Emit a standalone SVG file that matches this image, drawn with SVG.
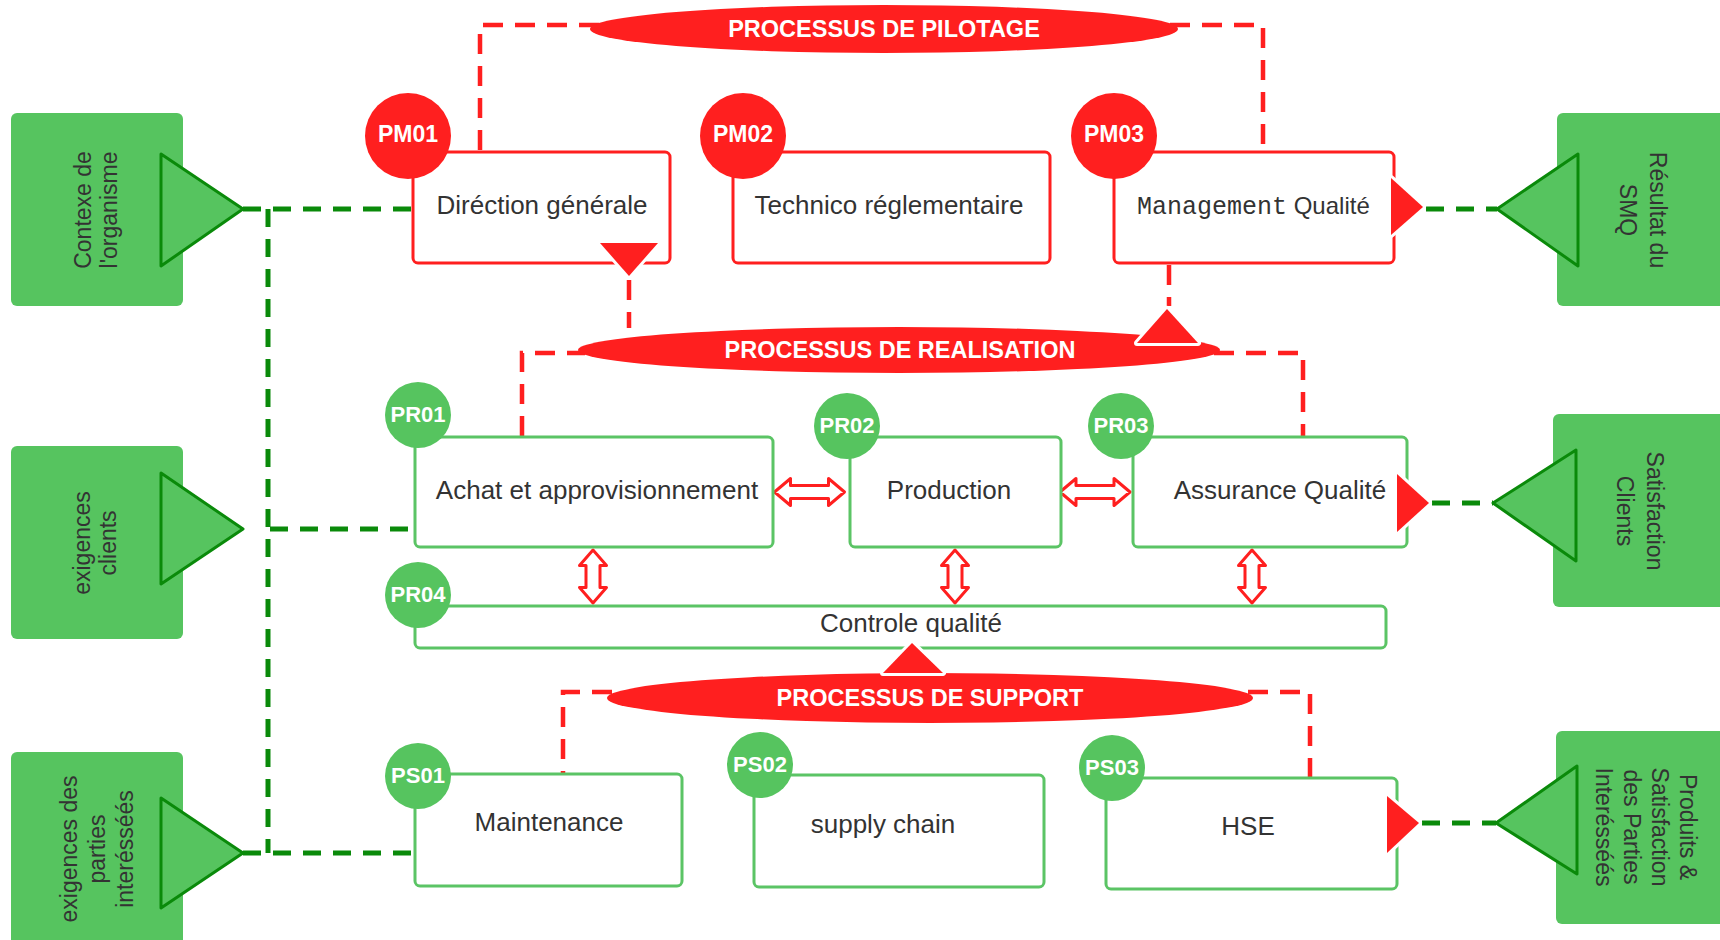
<svg xmlns="http://www.w3.org/2000/svg" width="1720" height="940" viewBox="0 0 1720 940">
<defs>
<style>
.rd{fill:none;stroke:#FF1F1F;stroke-width:4.5;stroke-dasharray:20 12}
.gd{fill:none;stroke:#0A8A0A;stroke-width:5;stroke-dasharray:18 12}
.gbox{fill:#56C45F}
.gtri{fill:#56C45F;stroke:#0A8A0A;stroke-width:3;stroke-linejoin:round}
.rbox{fill:#fff;stroke:#FF1F1F;stroke-width:3}
.nbox{fill:#fff;stroke:#5BC465;stroke-width:3}
.rc{fill:#FF1F1F}
.gc{fill:#56C45F}
.rtri{fill:#FF1F1F;stroke:#fff;stroke-width:6;paint-order:stroke;stroke-linejoin:round}
.dbl{fill:#fff;stroke:#FF1F1F;stroke-width:3;stroke-linejoin:round}
.ell{fill:#FF1F1F}
.t{font-family:"Liberation Sans",Arial,sans-serif;font-size:26px;fill:#333;text-anchor:middle}
.ts{font-family:"Liberation Sans",Arial,sans-serif;font-size:24px;fill:#333;text-anchor:start}
.mono{font-family:"Liberation Mono","Courier New",monospace;font-size:25px}
.side{font-family:"Liberation Sans",Arial,sans-serif;font-size:23px;fill:#333;text-anchor:middle}
.id{font-family:"Liberation Sans",Arial,sans-serif;font-weight:bold;fill:#fff;text-anchor:middle}
.title{font-family:"Liberation Sans",Arial,sans-serif;font-weight:bold;font-size:23.5px;fill:#fff;text-anchor:middle}
</style>
<path id="harrow" d="M-35,0 L-19,-13.5 L-19,-6.5 L19,-6.5 L19,-13.5 L35,0 L19,13.5 L19,6.5 L-19,6.5 L-19,13.5 Z"/>
<path id="varrow" d="M0,-26.5 L13.5,-11 L7,-11 L7,11 L13.5,11 L0,26.5 L-13.5,11 L-7,11 L-7,-11 L-13.5,-11 Z"/>
</defs>
<rect width="1720" height="940" fill="#fff"/>

<g id="connectors">
<path class="rd" d="M480,150 V25 H600"/>
<path class="rd" d="M1170,25 H1263 V150"/>
<path class="rd" d="M629,280 V328"/>
<path class="rd" d="M1169,265 V306"/>
<path class="rd" d="M522,436 V353 H585"/>
<path class="rd" d="M1214,353 H1303 V436"/>
<path class="rd" d="M612,692 H563 V773"/>
<path class="rd" d="M1248,692 H1310 V777"/>
<path class="gd" d="M243,209 H413"/>
<path class="gd" d="M268,209 V853"/>
<path class="gd" d="M270,529 H413"/>
<path class="gd" d="M243,853 H413"/>
<path class="gd" d="M1426,209 H1497"/>
<path class="gd" d="M1432,503 H1493"/>
<path class="gd" d="M1422,823 H1496"/>
<use href="#harrow" class="dbl" x="809.5" y="492"/>
<use href="#harrow" class="dbl" x="1095" y="492"/>
<use href="#varrow" class="dbl" x="593" y="576.5"/>
<use href="#varrow" class="dbl" x="955" y="576.5"/>
<use href="#varrow" class="dbl" x="1252" y="576.5"/>
</g>

<g id="in-contexte">
<rect class="gbox" x="11" y="113" width="172" height="193" rx="6"/>
<path class="gtri" d="M161,154 L243,209 L161,266 Z"/>
<text class="side" transform="translate(97,210) rotate(-90)"><tspan x="0" y="-6">Contexe de</tspan><tspan x="0" y="20">l'organisme</tspan></text>
</g>
<g id="in-clients">
<rect class="gbox" x="11" y="446" width="172" height="193" rx="6"/>
<path class="gtri" d="M161,473 L243,529 L161,584 Z"/>
<text class="side" transform="translate(96,543) rotate(-90)"><tspan x="0" y="-6">exigences</tspan><tspan x="0" y="20">clients</tspan></text>
</g>
<g id="in-parties">
<rect class="gbox" x="11" y="752" width="172" height="193" rx="6"/>
<path class="gtri" d="M161,798 L243,853 L161,908 Z"/>
<text class="side" transform="translate(97,849) rotate(-90)"><tspan x="0" y="-20">exigences des</tspan><tspan x="0" y="8">parties</tspan><tspan x="0" y="36">interésséés</tspan></text>
</g>

<g id="out-resultat">
<rect class="gbox" x="1557" y="113" width="172" height="193" rx="6"/>
<path class="gtri" d="M1578,154 L1497,209 L1578,266 Z"/>
<text class="side" transform="translate(1643,210) rotate(90)"><tspan x="0" y="-7">Résultat du</tspan><tspan x="0" y="23">SMQ</tspan></text>
</g>
<g id="out-satisfaction">
<rect class="gbox" x="1553" y="414" width="172" height="193" rx="6"/>
<path class="gtri" d="M1576,450 L1493,503 L1576,561 Z"/>
<text class="side" transform="translate(1640,511) rotate(90)"><tspan x="0" y="-7">Satisfaction</tspan><tspan x="0" y="23">Clients</tspan></text>
</g>
<g id="out-produits">
<rect class="gbox" x="1556" y="731" width="172" height="193" rx="6"/>
<path class="gtri" d="M1577,766 L1496,823 L1577,874 Z"/>
<text class="side" transform="translate(1646,827) rotate(90)"><tspan x="0" y="-34">Produits &amp;</tspan><tspan x="0" y="-6">Satisfaction</tspan><tspan x="0" y="22">des Parties</tspan><tspan x="0" y="50">Interésséés</tspan></text>
</g>

<g id="pilotage">
<ellipse class="ell" cx="884" cy="29" rx="294" ry="24"/>
<text class="title" x="884" y="37">PROCESSUS DE PILOTAGE</text>
</g>
<g id="realisation">
<ellipse class="ell" cx="899" cy="350" rx="321" ry="23"/>
<text class="title" x="900" y="358">PROCESSUS DE REALISATION</text>
<path class="rtri" d="M1137,343 L1167,309 L1198,343 Z"/>
</g>
<g id="support">
<ellipse class="ell" cx="930" cy="698" rx="323" ry="25"/>
<text class="title" x="930" y="706">PROCESSUS DE SUPPORT</text>
</g>

<g id="PM01">
<rect class="rbox" x="413" y="152" width="257" height="111" rx="5"/>
<path class="rtri" d="M600,243 L658,243 L629,276 Z"/>
<circle class="rc" cx="408" cy="136" r="43"/>
<text class="id" x="408" y="142" font-size="23">PM01</text>
<text class="t" x="542" y="214">Diréction générale</text>
</g>
<g id="PM02">
<rect class="rbox" x="733" y="152" width="317" height="111" rx="5"/>
<circle class="rc" cx="743" cy="136" r="43"/>
<text class="id" x="743" y="142" font-size="23">PM02</text>
<text class="t" x="889" y="214">Technico réglementaire</text>
</g>
<g id="PM03">
<rect class="rbox" x="1114" y="152" width="280" height="111" rx="5"/>
<path class="rtri" d="M1391,178 L1423,207 L1391,235 Z"/>
<circle class="rc" cx="1114" cy="136" r="43"/>
<text class="id" x="1114" y="142" font-size="23">PM03</text>
<text class="ts" x="1137" y="214"><tspan class="mono">Management</tspan> Qualité</text>
</g>

<g id="PR01">
<rect class="nbox" x="415" y="437" width="358" height="110" rx="5"/>
<circle class="gc" cx="418" cy="415" r="33"/>
<text class="id" x="418" y="422" font-size="22">PR01</text>
<text class="t" x="597" y="499">Achat et approvisionnement</text>
</g>
<g id="PR02">
<rect class="nbox" x="850" y="437" width="211" height="110" rx="5"/>
<circle class="gc" cx="847" cy="426" r="33"/>
<text class="id" x="847" y="433" font-size="22">PR02</text>
<text class="t" x="949" y="499">Production</text>
</g>
<g id="PR03">
<rect class="nbox" x="1133" y="437" width="274" height="110" rx="5"/>
<path class="rtri" d="M1397,474 L1429,503 L1397,532 Z"/>
<circle class="gc" cx="1121" cy="426" r="33"/>
<text class="id" x="1121" y="433" font-size="22">PR03</text>
<text class="t" x="1280" y="499">Assurance Qualité</text>
</g>
<g id="PR04">
<rect class="nbox" x="415" y="606" width="971" height="42" rx="5"/>
<circle class="gc" cx="418" cy="595" r="33"/>
<text class="id" x="418" y="602" font-size="22">PR04</text>
<text class="t" x="911" y="632">Controle qualité</text>
<path class="rtri" d="M883,673 L912,643 L943,673 Z"/>
</g>

<g id="PS01">
<rect class="nbox" x="415" y="774" width="267" height="112" rx="5"/>
<circle class="gc" cx="418" cy="776" r="33"/>
<text class="id" x="418" y="783" font-size="22">PS01</text>
<text class="t" x="549" y="831">Maintenance</text>
</g>
<g id="PS02">
<rect class="nbox" x="754" y="775" width="290" height="112" rx="5"/>
<circle class="gc" cx="760" cy="765" r="33"/>
<text class="id" x="760" y="772" font-size="22">PS02</text>
<text class="t" x="883" y="833">supply chain</text>
</g>
<g id="PS03">
<rect class="nbox" x="1106" y="778" width="291" height="111" rx="5"/>
<path class="rtri" d="M1387,796 L1419,823 L1387,853 Z"/>
<circle class="gc" cx="1112" cy="768" r="33"/>
<text class="id" x="1112" y="775" font-size="22">PS03</text>
<text class="t" x="1248" y="835">HSE</text>
</g>
</svg>
